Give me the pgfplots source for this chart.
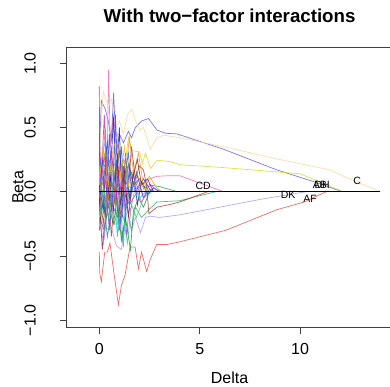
\documentclass[border=0pt]{standalone}
\usepackage{pgfplots}
\pgfplotsset{compat=1.18}
\usepackage{fontspec}
\setmainfont{Liberation Sans}
\definecolor{cBlue}{RGB}{85,85,230}
\definecolor{cWheat}{RGB}{245,212,155}
\definecolor{cYellow}{RGB}{215,215,30}
\definecolor{cPink}{RGB}{240,100,175}
\definecolor{cCrimson}{RGB}{220,30,50}
\definecolor{cRed}{RGB}{232,72,72}
\definecolor{cGreenA}{RGB}{50,170,110}
\definecolor{cGreenB}{RGB}{40,150,80}
\definecolor{cBrown}{RGB}{160,55,30}
\definecolor{cLav}{RGB}{165,150,240}
\definecolor{cNavy}{RGB}{20,20,170}
\definecolor{cBlue2}{RGB}{40,60,230}
\definecolor{cCyan}{RGB}{0,200,210}
\definecolor{cPurple}{RGB}{170,60,210}
\definecolor{cOrange}{RGB}{240,150,40}
\definecolor{cDkGreen}{RGB}{30,130,50}
\definecolor{cViolet}{RGB}{210,40,140}
\definecolor{cOlive}{RGB}{160,160,60}
\definecolor{cTeal}{RGB}{0,140,140}
\definecolor{cSky}{RGB}{100,170,230}
\definecolor{cMaroon}{RGB}{140,30,40}
\definecolor{cGold}{RGB}{230,190,20}
\definecolor{cSpring}{RGB}{60,200,120}
\definecolor{cRoyal}{RGB}{60,90,200}
\definecolor{cOrchid}{RGB}{200,110,220}
\begin{document}
\begin{tikzpicture}
\begin{scope}
\clip (-66.7bp,-59.7bp) rectangle (323.3bp,327.3bp);
\begin{axis}[
  at={(0,0)}, anchor=south west,
  scale only axis, width=325.8bp, height=280bp,
  xmin=-1.624, xmax=14.6, ymin=-1.055, ymax=1.124,
  axis line style={black!75, line width=0.8bp},
  tick style={black!75, line width=0.8bp},
  tick align=outside, major tick length=7bp,
  xtick pos=bottom, ytick pos=left,
  xtick={0,5,10}, xticklabels={0,5,10},
  ytick={-1,-0.5,0,0.5,1},
  yticklabels={−1.0,−0.5,0.0,0.5,1.0},
  ticklabel style={font=\fontsize{16bp}{19bp}\selectfont, inner sep=0pt},
  xticklabel style={anchor=north},
  yticklabel style={rotate=90, anchor=south},
  xticklabel shift=8.7bp, yticklabel shift=23.7bp,
  title={With two−factor interactions},
  title style={font=\bfseries\fontsize{18.7bp}{22bp}\selectfont, at={(axis description cs:0.5,1)}, anchor=base, yshift=18.5bp, inner sep=0pt},
  xlabel={Delta},
  every axis x label/.style={font=\fontsize{16bp}{19bp}\selectfont, at={([yshift=-56.5bp]axis description cs:0.5,0)}, anchor=base, inner sep=0pt},
  ylabel={Beta},
  every axis y label/.style={font=\fontsize{16bp}{19bp}\selectfont, at={([xshift=-43.4bp]axis description cs:0,0.5)}, rotate=90, anchor=base, inner sep=0pt},
  clip=true,
  every axis plot/.append style={line width=0.7bp, draw opacity=0.8},
]
% long paths
\addplot[cBlue] coordinates {(0,0.25) (0.1,0.71) (0.3,0.64) (0.45,0.55) (0.6,0.4) (0.71,0.77) (0.85,0.3) (1.0,0.45) (1.2,0.38) (1.45,0.47) (1.6,0.42) (1.8,0.5) (2.1,0.55) (2.45,0.57) (2.87,0.48) (3.3,0.455) (3.87,0.45) (6.2,0.33) (8.84,0.17) (10.65,0.08) (12.1,0)};
\addplot[cWheat] coordinates {(0,0.3) (0.2,0.78) (0.35,0.7) (0.6,0.72) (0.8,0.5) (1.0,0.55) (1.2,0.45) (1.4,0.6) (1.63,0.64) (1.8,0.55) (2.04,0.48) (2.2,0.5) (2.54,0.33) (2.87,0.42) (3.2,0.44) (4,0.42) (6.2,0.35) (9,0.25) (11.5,0.17) (12.3,0.11) (14,0)};
\addplot[cYellow] coordinates {(0,0.0) (0.4,0.15) (0.7,0.05) (1.0,0.3) (1.2,0.12) (1.45,0.42) (1.63,0.32) (2.0,0.31) (2.15,0.22) (2.3,0.3) (2.55,0.18) (2.87,0.245) (3.5,0.235) (4.03,0.21) (6,0.19) (10,0.14) (12.15,0)};
\addplot[cPink] coordinates {(0,0.0) (0.2,0.3) (0.3,0.5) (0.38,0.1) (0.46,0.95) (0.55,0.35) (0.7,0.6) (0.85,0.15) (1.0,0.3) (1.2,0.0) (1.45,0.2) (1.7,0.05) (2.0,0.1) (2.2,0.02) (2.5,0.1) (2.87,0.12) (3.5,0.125) (4,0.125) (6.2,0)};
\addplot[cCrimson] coordinates {(0,0.82) (0.03,-0.3) (0.12,0.1) (0.25,0.3) (0.4,-0.12) (0.55,0.12) (0.75,-0.08) (0.95,0.08) (1.2,-0.05) (1.5,0)};
\addplot[cRed] coordinates {(0,-0.47) (0.02,-0.63) (0.1,-0.70) (0.27,-0.47) (0.4,-0.47) (0.53,-0.40) (0.7,-0.6) (0.95,-0.88) (1.1,-0.73) (1.28,-0.65) (1.53,-0.43) (1.78,-0.43) (1.95,-0.6) (2.1,-0.47) (2.36,-0.62) (2.53,-0.53) (2.86,-0.41) (3.4,-0.41) (4.0,-0.39) (6.3,-0.3) (8.84,-0.14) (10.2,-0.08) (11.3,0)};
\addplot[cGreenA] coordinates {(0,-0.15) (0.2,-0.08) (0.35,-0.2) (0.55,-0.05) (0.75,-0.25) (0.95,-0.12) (1.15,-0.38) (1.35,-0.1) (1.6,-0.3) (1.8,-0.12) (2.1,-0.2) (2.47,-0.14) (2.87,-0.08) (4,-0.07) (5.8,0)};
\addplot[cGreenB] coordinates {(0,0.2) (0.15,0.22) (0.4,0.18) (0.6,0.28) (0.8,0.1) (1.0,0.32) (1.2,0.05) (1.45,0.22) (1.7,0.05) (2.0,0.1) (2.3,0.03) (2.6,0.05) (3,0.04) (3.9,0)};
\addplot[cBrown] coordinates {(0,0.02) (0.2,-0.25) (0.4,0.1) (0.6,-0.35) (0.8,0.05) (1.0,-0.3) (1.2,0.2) (1.4,-0.1) (1.6,0.35) (1.8,0.1) (2.0,0.2) (2.2,0.17) (2.35,0.05) (2.47,-0.17) (2.87,-0.12) (3.5,-0.1) (4,-0.08) (5.4,0)};
\addplot[cLav] coordinates {(0,-0.05) (0.1,-0.22) (0.25,-0.36) (0.4,-0.15) (0.6,-0.28) (0.85,-0.42) (1.1,-0.45) (1.25,-0.3) (1.4,-0.12) (1.6,-0.3) (1.8,-0.2) (2.05,-0.32) (2.3,-0.2) (2.5,-0.19) (3,-0.2) (4,-0.18) (6,-0.12) (8,-0.06) (10.3,0)};
% short paths
\addplot[cNavy] coordinates {(0,0.05) (0.2,-0.15) (0.35,0.35) (0.5,-0.1) (0.7,0.58) (0.85,0.0) (1.0,0.5) (1.15,-0.2) (1.3,0.3) (1.5,-0.05) (1.7,0.15) (1.9,-0.1) (2.1,0.08) (2.4,-0.02) (2.7,0.03) (3.0,0)};
\addplot[cBlue2] coordinates {(0,-0.1) (0.15,0.3) (0.3,-0.2) (0.5,0.45) (0.65,-0.05) (0.8,0.6) (0.95,0.05) (1.1,0.35) (1.3,-0.15) (1.5,0.2) (1.8,0.0) (2.2,0.1) (2.6,0.0)};
\addplot[cCyan] coordinates {(0,-0.1) (0.3,-0.05) (0.5,-0.25) (0.7,0.1) (0.9,-0.35) (1.05,-0.05) (1.2,-0.43) (1.35,0.15) (1.5,-0.1) (1.7,0.05) (2.0,-0.05) (2.3,0)};
\addplot[cPurple] coordinates {(0,0.25) (0.15,-0.05) (0.3,0.1) (0.5,-0.3) (0.75,0.15) (0.95,-0.2) (1.15,0.25) (1.35,-0.35) (1.6,0.05) (1.9,0.12) (2.2,-0.05) (2.5,0.06) (2.8,0.02) (3.1,0)};
\addplot[cOrange] coordinates {(0,0.0) (0.3,0.12) (0.55,-0.12) (0.8,0.2) (1.1,-0.05) (1.3,0.15) (1.5,0.42) (1.7,0.15) (1.95,0.3) (2.2,0.05) (2.5,0.12) (2.8,0.04) (3.1,0)};
\addplot[cDkGreen] coordinates {(0,-0.2) (0.25,-0.3) (0.45,-0.1) (0.7,-0.25) (0.9,-0.05) (1.1,-0.38) (1.3,-0.2) (1.55,-0.45) (1.7,-0.15) (1.95,-0.05) (2.2,-0.12) (2.5,0)};
\addplot[cViolet] coordinates {(0,0.45) (0.1,0.1) (0.25,0.6) (0.4,0.0) (0.6,0.35) (0.8,-0.1) (1.0,0.2) (1.3,0.05) (1.6,0.15) (2.0,0.0)};
\addplot[cOlive] coordinates {(0,0.1) (0.3,-0.1) (0.6,0.2) (0.9,0.0) (1.2,0.25) (1.5,0.0) (1.8,0.1) (2.1,0.0)};
\addplot[cTeal] coordinates {(0,-0.3) (0.2,-0.05) (0.4,-0.35) (0.65,-0.1) (0.9,-0.2) (1.2,0.0) (1.5,-0.1) (1.9,0)};
\addplot[cSky] coordinates {(0,0.15) (0.3,0.4) (0.5,0.0) (0.8,0.25) (1.1,-0.1) (1.4,0.05) (1.8,0)};
\addplot[cMaroon] coordinates {(0,-0.05) (0.15,-0.45) (0.3,-0.2) (0.5,0.1) (0.7,-0.15) (0.9,0.3) (1.05,-0.1) (1.25,0.15) (1.45,-0.2) (1.65,0.1) (1.9,0.25) (2.1,0.05) (2.4,0.1) (2.7,0)};
\addplot[cGold] coordinates {(0,0.1) (0.2,0.35) (0.45,0.05) (0.65,0.3) (0.9,0.45) (1.05,0.1) (1.25,0.35) (1.45,0.05) (1.75,0.2) (2.1,0.05) (2.4,0)};
\addplot[cSpring] coordinates {(0,-0.25) (0.2,0.05) (0.45,-0.2) (0.7,0.05) (0.95,-0.3) (1.15,-0.15) (1.4,-0.4) (1.6,-0.1) (1.85,-0.2) (2.2,-0.05) (2.6,0)};
\addplot[cRoyal] coordinates {(0,0.3) (0.2,0.05) (0.4,0.4) (0.6,-0.15) (0.85,0.25) (1.05,-0.25) (1.25,0.1) (1.45,0.3) (1.6,0.0) (1.85,0.15) (2.2,-0.05) (2.5,0.02) (2.8,0)};
\addplot[cOrchid] coordinates {(0,-0.2) (0.2,-0.4) (0.4,-0.05) (0.6,-0.2) (0.85,0.1) (1.05,-0.3) (1.3,0.05) (1.55,-0.15) (1.8,0.05) (2.1,-0.08) (2.4,0)};
% zero line
\addplot[black, line width=0.9bp, draw opacity=1] coordinates {(0,0) (14,0)};
% labels
\node[font=\fontsize{10.5bp}{12bp}\selectfont, inner sep=0pt] at (axis cs:5.17,0.044) {CD};
\node[font=\fontsize{10.5bp}{12bp}\selectfont, inner sep=0pt] at (axis cs:9.40,-0.026) {DK};
\node[font=\fontsize{10.5bp}{12bp}\selectfont, inner sep=0pt] at (axis cs:10.49,-0.057) {AF};
\node[font=\fontsize{10.5bp}{12bp}\selectfont, inner sep=0pt] at (axis cs:10.98,0.052) {AB};
\node[font=\fontsize{10.5bp}{12bp}\selectfont, inner sep=0pt] at (axis cs:11.10,0.052) {DH};
\node[font=\fontsize{10.5bp}{12bp}\selectfont, inner sep=0pt] at (axis cs:12.84,0.083) {C};
\end{axis}
\end{scope}
\pgfresetboundingbox
\path[use as bounding box] (-66.7bp,-59.7bp) rectangle (323.3bp,327.3bp);
\end{tikzpicture}
\end{document}
